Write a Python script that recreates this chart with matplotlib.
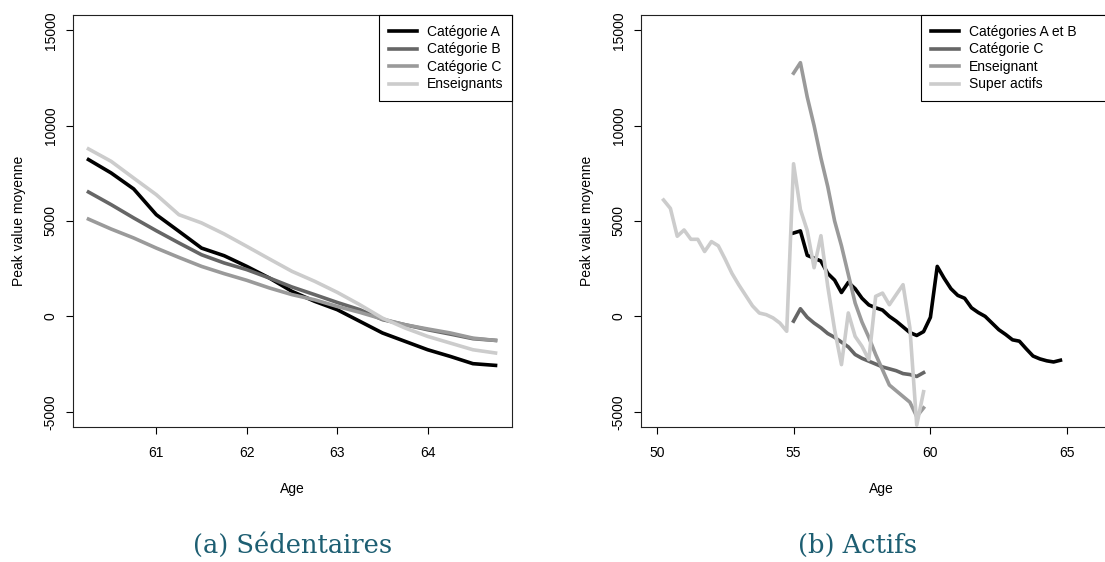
"""Peak value moyenne par age : sedentaires (a) et actifs (b)."""

import matplotlib
matplotlib.use("Agg")
import matplotlib.pyplot as plt

plt.rcParams["font.family"] = ["Liberation Sans", "DejaVu Sans"]

# (a) Sedentaires -- quarterly ages
age_sed = [60.25, 60.5, 60.75, 61.0, 61.25, 61.5, 61.75, 62.0, 62.25, 62.5,
           62.75, 63.0, 63.25, 63.5, 63.75, 64.0, 64.25, 64.5, 64.75]
sed_cat_a = [8220, 7520, 6680, 5330, 4460, 3580, 3180, 2620, 2010, 1310,
             790, 350, -260, -870, -1310, -1750, -2100, -2480, -2570]
sed_cat_b = [6520, 5860, 5160, 4490, 3850, 3230, 2800, 2450, 2010, 1540,
             1140, 730, 350, -170, -440, -700, -930, -1170, -1260]
sed_cat_c = [5100, 4580, 4110, 3580, 3090, 2620, 2240, 1890, 1490, 1140,
             870, 520, 210, -140, -440, -660, -870, -1140, -1260]
sed_ens = [8780, 8130, 7250, 6380, 5330, 4900, 4320, 3670, 3010, 2360,
           1840, 1260, 610, -90, -610, -1050, -1400, -1750, -1920]

# (b) Actifs
age_ab = [55.0, 55.25, 55.5, 55.75, 56.0, 56.25, 56.5, 56.75, 57.0, 57.25,
          57.5, 57.75, 58.0, 58.25, 58.5, 58.75, 59.0, 59.25, 59.5, 59.75,
          60.0, 60.25, 60.5, 60.75, 61.0, 61.25, 61.5, 61.75, 62.0, 62.25,
          62.5, 62.75, 63.0, 63.25, 63.5, 63.75, 64.0, 64.25, 64.5, 64.75]
act_cat_ab = [4370, 4480, 3200, 3050, 2900, 2250, 1900, 1250, 1780, 1450,
              950, 600, 450, 330, 0, -250, -550, -850, -1000, -800,
              -50, 2620, 2000, 1450, 1100, 950, 450, 200, 0, -350,
              -700, -950, -1230, -1300, -1700, -2080, -2230, -2330, -2390, -2300]

age_c = [55.0, 55.25, 55.5, 55.75, 56.0, 56.25, 56.5, 56.75, 57.0, 57.25,
         57.5, 57.75, 58.0, 58.25, 58.5, 58.75, 59.0, 59.25, 59.5, 59.75]
act_cat_c = [-250, 400, -50, -350, -600, -900, -1100, -1350, -1600, -2000,
             -2200, -2350, -2500, -2650, -2750, -2850, -3000, -3050, -3150, -2950]
act_ens = [12750, 13300, 11500, 10000, 8300, 6800, 5000, 3700, 2200, 700,
           -300, -1100, -2000, -2800, -3600, -3900, -4200, -4500, -5250, -4800]

age_super = [50.25, 50.5, 50.75, 51.0, 51.25, 51.5, 51.75, 52.0, 52.25, 52.5,
             52.75, 53.0, 53.25, 53.5, 53.75, 54.0, 54.25, 54.5, 54.75, 55.0,
             55.25, 55.5, 55.75, 56.0, 56.25, 56.5, 56.75, 57.0, 57.25, 57.5,
             57.75, 58.0, 58.25, 58.5, 58.75, 59.0, 59.25, 59.5, 59.75]
act_super = [6100, 5660, 4200, 4530, 4040, 4040, 3400, 3920, 3700, 3000,
             2250, 1650, 1100, 550, 175, 90, -80, -350, -780, 8000,
             5600, 4500, 2550, 4230, 1570, -700, -2530, 180, -1050, -1570,
             -2270, 1050, 1220, 610, 1140, 1660, -600, -5700, -3950]

C_BLACK, C_DARK, C_MID, C_LIGHT = "#000000", "#666666", "#9a9a9a", "#cccccc"
LW = 2.6
FS = 10

fig = plt.figure(figsize=(11.05, 5.62), dpi=100)
ax_sed = fig.add_axes([73 / 1105, 135 / 562, 439 / 1105, 412 / 562])
ax_act = fig.add_axes([641 / 1105, 135 / 562, 480 / 1105, 412 / 562])

ax_sed.plot(age_sed, sed_cat_a, color=C_BLACK, lw=LW, label="Catégorie A")
ax_sed.plot(age_sed, sed_cat_b, color=C_DARK, lw=LW, label="Catégorie B")
ax_sed.plot(age_sed, sed_cat_c, color=C_MID, lw=LW, label="Catégorie C")
ax_sed.plot(age_sed, sed_ens, color=C_LIGHT, lw=LW, label="Enseignants")

ax_act.plot(age_ab, act_cat_ab, color=C_BLACK, lw=LW, label="Catégories A et B")
ax_act.plot(age_c, act_cat_c, color=C_DARK, lw=LW, label="Catégorie C")
ax_act.plot(age_c, act_ens, color=C_MID, lw=LW, label="Enseignant")
ax_act.plot(age_super, act_super, color=C_LIGHT, lw=LW, label="Super actifs")

ax_sed.set_xlim(60.079, 64.932)
ax_sed.set_xticks([61, 62, 63, 64])
ax_act.set_xlim(49.426, 49.426 + 480 / 27.37)
ax_act.set_xticks([50, 55, 60, 65])
# the right panel runs past the figure edge, as in the cropped original
ax_act.spines["right"].set_visible(False)

for ax, width_px, leg_x0_px in [(ax_sed, 439, 379 - 73), (ax_act, 480, 921 - 641)]:
    ax.set_ylim(-5800, 15800)
    ax.set_yticks([-5000, 0, 5000, 10000, 15000])
    ax.set_yticklabels(["-5000", "0", "5000", "10000", "15000"],
                       rotation=90, va="center")
    ax.tick_params(axis="both", length=5, width=0.8, labelsize=FS)
    ax.tick_params(axis="x", pad=9)
    ax.tick_params(axis="y", pad=6)
    for sp in ax.spines.values():
        sp.set_linewidth(0.8)
        sp.set_color("#222222")
    ax.set_xlabel("Age", fontsize=FS)
    ax.xaxis.set_label_coords(0.5, -0.134)
    ax.set_ylabel("Peak value moyenne", fontsize=FS)
    ax.yaxis.set_label_coords(-47 / width_px, 0.5)
    leg_x0 = leg_x0_px / width_px
    leg = ax.legend(loc="upper left", bbox_to_anchor=(leg_x0, 0.79, 1 - leg_x0, 0.21),
                    mode="expand", borderaxespad=0, fancybox=False,
                    edgecolor="black", framealpha=1, fontsize=FS,
                    handlelength=2.0, handletextpad=0.75, borderpad=0.72,
                    labelspacing=0.25)
    leg.get_frame().set_linewidth(0.8)

cap_kw = dict(ha="center", va="center", fontsize=18.5, color="#1d5e72",
              family=["DejaVu Serif"])
fig.text(293 / 1105, 1 - 545 / 562, "(a) Sédentaires", **cap_kw)
fig.text(858 / 1105, 1 - 545 / 562, "(b) Actifs", **cap_kw)

fig.savefig("out.png", dpi=100)
